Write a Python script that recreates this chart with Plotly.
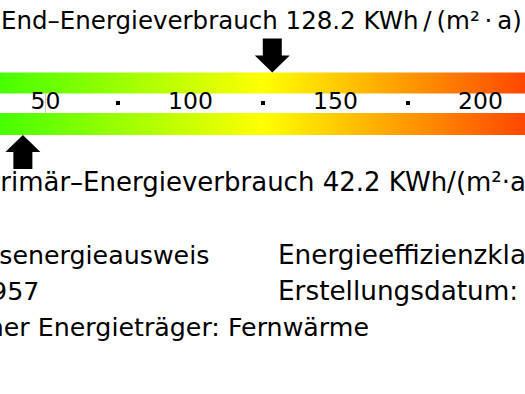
import numpy as np
import plotly.graph_objects as go

# ---- data ----
scale_min, scale_max = 0, 250
tick_values = [50, 100, 150, 200]
tick_labels = ["50", "100", "150", "200"]
dot_values = [75, 125, 175]
end_energy = 128.2
primary_energy = 42.2
unit_top = "KWh\u2009/\u2009(m²\u2009·\u2009a)"
unit_bottom = "KWh/(m²·a)"
info_left = ["Verbrauchsenergieausweis", "Baujahr: 1957", "Wesentlicher Energieträger: Fernwärme"]
info_right = ["Energieeffizienzklasse: A", "Erstellungsdatum: 15.06.2014"]

# ---- geometry (pixel y axis, value x axis) ----
W, H = 525, 394
PX_PER_UNIT = 2.9
X0_PX = -99.5  # pixel of value 0
def px2v(p):
    return (p - X0_PX) / PX_PER_UNIT

FONT = "DejaVu Sans"
fig = go.Figure()

grad_x = np.linspace(scale_min, scale_max, 501)
colorscale = [[0, "#00ff00"], [0.5, "#ffff00"], [1, "#ff0000"]]
for (y0, y1) in [(72.5, 93), (113, 135)]:
    fig.add_trace(go.Heatmap(
        x=grad_x, y=[y0, y1], z=[grad_x], zmin=scale_min, zmax=scale_max,
        colorscale=colorscale, showscale=False, hoverinfo="skip"))

# tick labels and dots
fig.add_trace(go.Scatter(x=tick_values, y=[103] * len(tick_values), mode="text",
                         text=tick_labels, textfont=dict(family=FONT, size=23.5, color="black"),
                         hoverinfo="skip"))
fig.add_trace(go.Scatter(x=dot_values, y=[103] * len(dot_values), mode="markers",
                         marker=dict(symbol="square", size=4, color="black"), hoverinfo="skip"))

shapes = []
shapes.append(dict(type="line", xref="x", yref="y", x0=50, x1=50, y0=93, y1=113,
                   line=dict(color="#cccccc", width=1)))

def arrow(v, tip_y, direction):
    hw_head = 17.5 / PX_PER_UNIT
    hw_shaft = 9.5 / PX_PER_UNIT
    head_len = 17
    shaft_len = 17
    d = -direction
    yb = tip_y + d * head_len
    ys = yb + d * shaft_len
    pts = [(v, tip_y), (v - hw_head, yb), (v - hw_shaft, yb), (v - hw_shaft, ys),
           (v + hw_shaft, ys), (v + hw_shaft, yb), (v + hw_head, yb)]
    path = "M " + " L ".join(f"{x},{y}" for x, y in pts) + " Z"
    return dict(type="path", xref="x", yref="y", path=path, fillcolor="black",
                line=dict(width=0))

shapes.append(arrow(end_energy, 72.5, +1))
shapes.append(arrow(primary_energy, 135, -1))

ann = []
def text(px, py, s, anchor="left", size=24):
    ann.append(dict(xref="paper", yref="y", x=px / W, y=py, text=s, showarrow=False,
                    xanchor=anchor, yanchor="middle",
                    font=dict(family=FONT, size=size, color="black")))

text(-1, 20, f"End–Energieverbrauch {end_energy} {unit_top}", size=24.5)
text(-17, 182, f"Primär–Energieverbrauch {primary_energy} {unit_bottom}", size=26)
text(211, 255, info_left[0], "right", 25.3)
text(41, 291, info_left[1], "right", 25.3)
text(371, 327, info_left[2], "right", 25.3)
text(276, 255, info_right[0], "left", 26.3)
text(276, 291, info_right[1], "left", 26.3)

fig.update_layout(
    width=W, height=H, margin=dict(l=0, r=0, t=0, b=0),
    paper_bgcolor="white", plot_bgcolor="white", showlegend=False,
    xaxis=dict(range=[px2v(0), px2v(W)], visible=False, fixedrange=True),
    yaxis=dict(range=[H, 0], visible=False, fixedrange=True),
    shapes=shapes, annotations=ann,
)
fig.write_html("out.html", config={"displayModeBar": False})
